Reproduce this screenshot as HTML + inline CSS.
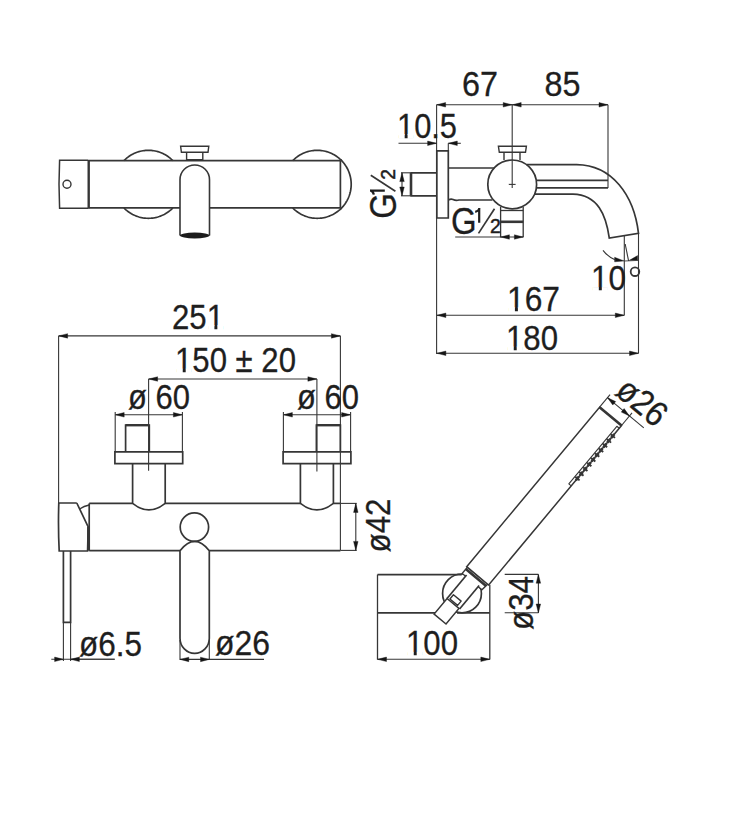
<!DOCTYPE html>
<html><head><meta charset="utf-8"><style>
html,body{margin:0;padding:0;background:#fff;}
svg{display:block;}
text{font-family:"Liberation Sans",sans-serif;fill:#1e1e1e;stroke:#1e1e1e;stroke-width:0.3px;}
</style></head><body>
<svg width="750" height="813" viewBox="0 0 750 813">
<rect width="750" height="813" fill="#fff"/>
<path d="M123.92,160.70 L124.89,159.74 L125.90,158.81 L126.94,157.93 L128.02,157.09 L129.13,156.29 L130.27,155.54 L131.44,154.83 L132.63,154.18 L133.86,153.57 L135.10,153.01 L136.37,152.50 L137.66,152.04 L138.96,151.64 L140.28,151.28 L141.62,150.98 L142.96,150.74 L144.31,150.55 L145.67,150.41 L147.03,150.33 L148.40,150.30 L149.77,150.33 L151.13,150.41 L152.49,150.55 L153.84,150.74 L155.18,150.98 L156.52,151.28 L157.84,151.64 L159.14,152.04 L160.43,152.50 L161.70,153.01 L162.94,153.57 L164.17,154.18 L165.36,154.83 L166.53,155.54 L167.67,156.29 L168.78,157.09 L169.86,157.93 L170.90,158.81 L171.91,159.74 L172.88,160.70" stroke="#363636" stroke-width="1.7" fill="none" />
<path d="M172.88,207.90 L171.91,208.86 L170.90,209.79 L169.86,210.67 L168.78,211.51 L167.67,212.31 L166.53,213.06 L165.36,213.77 L164.17,214.42 L162.94,215.03 L161.70,215.59 L160.43,216.10 L159.14,216.56 L157.84,216.96 L156.52,217.32 L155.18,217.62 L153.84,217.86 L152.49,218.05 L151.13,218.19 L149.77,218.27 L148.40,218.30 L147.03,218.27 L145.67,218.19 L144.31,218.05 L142.96,217.86 L141.62,217.62 L140.28,217.32 L138.96,216.96 L137.66,216.56 L136.37,216.10 L135.10,215.59 L133.86,215.03 L132.63,214.42 L131.44,213.77 L130.27,213.06 L129.13,212.31 L128.02,211.51 L126.94,210.67 L125.90,209.79 L124.89,208.86 L123.92,207.90" stroke="#363636" stroke-width="1.7" fill="none" />
<path d="M292.72,160.70 L293.69,159.74 L294.70,158.81 L295.74,157.93 L296.82,157.09 L297.93,156.29 L299.07,155.54 L300.24,154.83 L301.43,154.18 L302.66,153.57 L303.90,153.01 L305.17,152.50 L306.46,152.04 L307.76,151.64 L309.08,151.28 L310.42,150.98 L311.76,150.74 L313.11,150.55 L314.47,150.41 L315.83,150.33 L317.20,150.30 L318.57,150.33 L319.93,150.41 L321.29,150.55 L322.64,150.74 L323.98,150.98 L325.32,151.28 L326.64,151.64 L327.94,152.04 L329.23,152.50 L330.50,153.01 L331.74,153.57 L332.97,154.18 L334.16,154.83 L335.33,155.54 L336.47,156.29 L337.58,157.09 L338.66,157.93 L339.70,158.81 L340.71,159.74 L341.68,160.70" stroke="#363636" stroke-width="1.7" fill="none" />
<path d="M341.68,207.90 L340.71,208.86 L339.70,209.79 L338.66,210.67 L337.58,211.51 L336.47,212.31 L335.33,213.06 L334.16,213.77 L332.97,214.42 L331.74,215.03 L330.50,215.59 L329.23,216.10 L327.94,216.56 L326.64,216.96 L325.32,217.32 L323.98,217.62 L322.64,217.86 L321.29,218.05 L319.93,218.19 L318.57,218.27 L317.20,218.30 L315.83,218.27 L314.47,218.19 L313.11,218.05 L311.76,217.86 L310.42,217.62 L309.08,217.32 L307.76,216.96 L306.46,216.56 L305.17,216.10 L303.90,215.59 L302.66,215.03 L301.43,214.42 L300.24,213.77 L299.07,213.06 L297.93,212.31 L296.82,211.51 L295.74,210.67 L294.70,209.79 L293.69,208.86 L292.72,207.90" stroke="#363636" stroke-width="1.7" fill="none" />
<path d="M340.40,159.45 L341.40,160.42 L342.36,161.43 L343.27,162.48 L344.15,163.57 L344.97,164.69 L345.75,165.84 L346.49,167.03 L347.17,168.24 L347.80,169.48 L348.38,170.75 L348.91,172.04 L349.39,173.35 L349.81,174.68 L350.18,176.02 L350.49,177.38 L350.74,178.75 L350.94,180.13 L351.09,181.52 L351.17,182.91 L351.20,184.30 L351.17,185.69 L351.09,187.08 L350.94,188.47 L350.74,189.85 L350.49,191.22 L350.18,192.58 L349.81,193.92 L349.39,195.25 L348.91,196.56 L348.38,197.85 L347.80,199.12 L347.17,200.36 L346.49,201.57 L345.75,202.76 L344.97,203.91 L344.15,205.03 L343.27,206.12 L342.36,207.17 L341.40,208.18 L340.40,209.15" stroke="#363636" stroke-width="1.7" fill="none" />
<line x1="88.00" y1="160.70" x2="340.40" y2="160.70" stroke="#363636" stroke-width="1.7"/>
<line x1="88.00" y1="207.90" x2="180.00" y2="207.90" stroke="#363636" stroke-width="1.7"/>
<line x1="209.50" y1="207.90" x2="340.40" y2="207.90" stroke="#363636" stroke-width="1.7"/>
<line x1="340.40" y1="160.70" x2="340.40" y2="207.90" stroke="#363636" stroke-width="1.7"/>
<path d="M88,160.3 L59.6,160.3 Q58.4,184.3 59.6,208.3 L88,208.3" stroke="#363636" stroke-width="1.5" fill="none" />
<line x1="88.70" y1="160.30" x2="88.70" y2="208.30" stroke="#363636" stroke-width="2.4"/>
<circle cx="67" cy="184.3" r="4" stroke="#363636" stroke-width="1.4" fill="none"/>
<path d="M180,235.5 L180,179.7 A14.75,14.75 0 0 1 209.5,179.7 L209.5,235.5" stroke="#363636" stroke-width="1.6" fill="none" />
<ellipse cx="194.75" cy="235.5" rx="14.9" ry="2.9" fill="#1c1c1c"/>
<path d="M180.6,146.2 L208.8,146.2 L208.0,152.3 L181.4,152.3 Z" stroke="#363636" stroke-width="1.4" fill="none" />
<path d="M186.6,152.3 L186.6,159.6 L202.8,159.6 L202.8,152.3" stroke="#363636" stroke-width="1.4" fill="none" />
<line x1="436.60" y1="104.80" x2="608.00" y2="104.80" stroke="#363636" stroke-width="1.1"/>
<path d="M436.60,104.80 L445.60,102.55 L445.60,107.05 Z" fill="#161616" stroke="#161616" stroke-width="0.4" stroke-linejoin="miter"/>
<path d="M512.20,104.80 L503.20,107.05 L503.20,102.55 Z" fill="#161616" stroke="#161616" stroke-width="0.4" stroke-linejoin="miter"/>
<path d="M512.20,104.80 L521.20,102.55 L521.20,107.05 Z" fill="#161616" stroke="#161616" stroke-width="0.4" stroke-linejoin="miter"/>
<path d="M608.00,104.80 L599.00,107.05 L599.00,102.55 Z" fill="#161616" stroke="#161616" stroke-width="0.4" stroke-linejoin="miter"/>
<line x1="436.60" y1="104.80" x2="436.60" y2="354.00" stroke="#363636" stroke-width="1.1"/>
<line x1="512.20" y1="104.80" x2="512.20" y2="184.40" stroke="#363636" stroke-width="1.1"/>
<line x1="508.80" y1="184.40" x2="515.60" y2="184.40" stroke="#363636" stroke-width="1.1"/>
<line x1="512.20" y1="184.40" x2="512.20" y2="188.00" stroke="#363636" stroke-width="1.1"/>
<line x1="608.00" y1="104.80" x2="608.00" y2="188.00" stroke="#363636" stroke-width="1.1"/>
<text x="462" y="96.4" font-size="35.5" text-anchor="start" textLength="36" lengthAdjust="spacingAndGlyphs" >67</text>
<text x="544.5" y="96.4" font-size="35.5" text-anchor="start" textLength="36" lengthAdjust="spacingAndGlyphs" >85</text>
<line x1="398.50" y1="143.30" x2="436.60" y2="143.30" stroke="#363636" stroke-width="1.1"/>
<path d="M436.60,143.30 L427.60,145.55 L427.60,141.05 Z" fill="#161616" stroke="#161616" stroke-width="0.4" stroke-linejoin="miter"/>
<line x1="448.30" y1="143.30" x2="460.80" y2="143.30" stroke="#363636" stroke-width="1.1"/>
<path d="M448.30,143.30 L457.30,141.05 L457.30,145.55 Z" fill="#161616" stroke="#161616" stroke-width="0.4" stroke-linejoin="miter"/>
<line x1="448.30" y1="143.30" x2="448.30" y2="150.80" stroke="#363636" stroke-width="1.1"/>
<text x="397" y="137.5" font-size="35.5" text-anchor="start" textLength="60" lengthAdjust="spacingAndGlyphs" >10.5</text>
<path d="M436.8,150.8 L448.3,150.8 L448.3,218 L436.8,218 Z" stroke="#363636" stroke-width="1.7" fill="none" />
<path d="M436.8,172.8 L411,172.8 L411,195.8 L436.8,195.8" stroke="#363636" stroke-width="1.7" fill="none" />
<line x1="411.00" y1="172.80" x2="411.00" y2="195.80" stroke="#363636" stroke-width="2.6"/>
<line x1="401.00" y1="172.80" x2="410.00" y2="172.80" stroke="#363636" stroke-width="1.1"/>
<line x1="401.00" y1="195.80" x2="410.00" y2="195.80" stroke="#363636" stroke-width="1.1"/>
<line x1="402.00" y1="172.80" x2="402.00" y2="195.80" stroke="#363636" stroke-width="1.1"/>
<path d="M402.00,172.80 L404.25,181.60 L399.75,181.60 Z" fill="#161616" stroke="#161616" stroke-width="0.4" stroke-linejoin="miter"/>
<path d="M402.00,195.80 L399.75,187.00 L404.25,187.00 Z" fill="#161616" stroke="#161616" stroke-width="0.4" stroke-linejoin="miter"/>
<line x1="448.30" y1="168.00" x2="494.20" y2="168.00" stroke="#363636" stroke-width="1.7"/>
<path d="M448.3,200 Q451,198.5 453,199.5 Q456,201 459,200 L492.5,200" stroke="#363636" stroke-width="1.7" fill="none" />
<circle cx="512.2" cy="184.4" r="24.4" stroke="#363636" stroke-width="1.7" fill="none"/>
<path d="M498.4,146.2 L526.4,146.2 L525.5,152.3 L499.3,152.3 Z" stroke="#363636" stroke-width="1.4" fill="none" />
<path d="M504,152.3 L504,160 M520,152.3 L520,160" stroke="#363636" stroke-width="1.4" fill="none" />
<path d="M526.3,164.6 L576.7,164.6 C612,165 634,195 638.5,233.3 L609.3,238.1 C606,215 598,195 573,194.2 L534.5,194.2" stroke="#363636" stroke-width="1.7" fill="none" />
<line x1="536.40" y1="180.40" x2="608.00" y2="180.40" stroke="#363636" stroke-width="1.7"/>
<line x1="536.30" y1="187.90" x2="608.00" y2="187.90" stroke="#363636" stroke-width="1.7"/>
<line x1="500.60" y1="207.00" x2="500.60" y2="237.30" stroke="#363636" stroke-width="1.32"/>
<line x1="523.20" y1="207.00" x2="523.20" y2="237.30" stroke="#363636" stroke-width="1.32"/>
<line x1="500.60" y1="210.50" x2="523.20" y2="210.50" stroke="#363636" stroke-width="1.3"/>
<line x1="500.60" y1="221.80" x2="523.20" y2="221.80" stroke="#363636" stroke-width="2.6"/>
<line x1="455.20" y1="237.00" x2="523.20" y2="237.00" stroke="#363636" stroke-width="1.1"/>
<path d="M500.60,237.00 L509.40,234.75 L509.40,239.25 Z" fill="#161616" stroke="#161616" stroke-width="0.4" stroke-linejoin="miter"/>
<path d="M523.20,237.00 L514.40,239.25 L514.40,234.75 Z" fill="#161616" stroke="#161616" stroke-width="0.4" stroke-linejoin="miter"/>
<g transform="translate(451,233.4)">
<text x="0" y="0.6" font-size="37.5" text-anchor="start" textLength="25.6" lengthAdjust="spacingAndGlyphs" >G</text>
<path d="M28.2,-10.6 L28.2,-25.4 M28.6,-25 Q27.2,-22 24.2,-21.6" stroke="#1e1e1e" stroke-width="2.2" fill="none" />
<line x1="27.50" y1="0.00" x2="43.50" y2="-24.60" stroke="#363636" stroke-width="1.7"/>
<text x="39.0" y="-0.3" font-size="20" text-anchor="start" textLength="10.8" lengthAdjust="spacingAndGlyphs" style="stroke-width:0.5px">2</text>
</g>
<g transform="translate(395.4,218.8) rotate(-90)">
<text x="0" y="0.6" font-size="37.5" text-anchor="start" textLength="25.6" lengthAdjust="spacingAndGlyphs" >G</text>
<path d="M28.2,-10.6 L28.2,-25.4 M28.6,-25 Q27.2,-22 24.2,-21.6" stroke="#1e1e1e" stroke-width="2.2" fill="none" />
<line x1="27.50" y1="0.00" x2="43.50" y2="-24.60" stroke="#363636" stroke-width="1.7"/>
<text x="39.0" y="-0.3" font-size="20" text-anchor="start" textLength="10.8" lengthAdjust="spacingAndGlyphs" style="stroke-width:0.5px">2</text>
</g>
<line x1="624.30" y1="236.00" x2="624.30" y2="315.30" stroke="#363636" stroke-width="1.1"/>
<line x1="638.50" y1="233.30" x2="638.50" y2="353.30" stroke="#363636" stroke-width="1.1"/>
<line x1="625.20" y1="244.00" x2="628.60" y2="261.00" stroke="#363636" stroke-width="1.1"/>
<path d="M624.1,260.9 L614.6,257.3 L614.6,261.8 Z" fill="#161616" stroke="#161616" stroke-width="0.4"/>
<path d="M629.4,260.3 L637.6,255.6 L637.6,260.1 Z" fill="#161616" stroke="#161616" stroke-width="0.4"/>
<line x1="624.30" y1="261.00" x2="638.50" y2="260.40" stroke="#363636" stroke-width="0.9"/>
<path d="M603,250.4 Q608,257 616,260.3" stroke="#363636" stroke-width="1.1" fill="none" />
<text x="591" y="290.4" font-size="35.5" text-anchor="start" textLength="35" lengthAdjust="spacingAndGlyphs" >10</text>
<circle cx="635" cy="271.7" r="4.3" stroke="#363636" stroke-width="1.8" fill="none"/>
<line x1="436.90" y1="315.30" x2="624.30" y2="315.30" stroke="#363636" stroke-width="1.1"/>
<path d="M436.90,315.30 L445.90,313.05 L445.90,317.55 Z" fill="#161616" stroke="#161616" stroke-width="0.4" stroke-linejoin="miter"/>
<path d="M624.30,315.30 L615.30,317.55 L615.30,313.05 Z" fill="#161616" stroke="#161616" stroke-width="0.4" stroke-linejoin="miter"/>
<line x1="436.90" y1="353.30" x2="638.50" y2="353.30" stroke="#363636" stroke-width="1.1"/>
<path d="M436.90,353.30 L445.90,351.05 L445.90,355.55 Z" fill="#161616" stroke="#161616" stroke-width="0.4" stroke-linejoin="miter"/>
<path d="M638.50,353.30 L629.50,355.55 L629.50,351.05 Z" fill="#161616" stroke="#161616" stroke-width="0.4" stroke-linejoin="miter"/>
<text x="507" y="310.7" font-size="35.5" text-anchor="start" textLength="53" lengthAdjust="spacingAndGlyphs" >167</text>
<text x="506" y="350" font-size="35.5" text-anchor="start" textLength="52" lengthAdjust="spacingAndGlyphs" >180</text>
<line x1="58.60" y1="335.90" x2="340.40" y2="335.90" stroke="#363636" stroke-width="1.1"/>
<path d="M58.60,335.90 L67.60,333.65 L67.60,338.15 Z" fill="#161616" stroke="#161616" stroke-width="0.4" stroke-linejoin="miter"/>
<path d="M340.40,335.90 L331.40,338.15 L331.40,333.65 Z" fill="#161616" stroke="#161616" stroke-width="0.4" stroke-linejoin="miter"/>
<line x1="58.60" y1="335.90" x2="58.60" y2="503.00" stroke="#363636" stroke-width="1.1"/>
<line x1="340.40" y1="335.90" x2="340.40" y2="550.70" stroke="#363636" stroke-width="1.1"/>
<text x="172" y="328.7" font-size="35.5" text-anchor="start" textLength="52" lengthAdjust="spacingAndGlyphs" >251</text>
<line x1="148.60" y1="379.00" x2="316.90" y2="379.00" stroke="#363636" stroke-width="1.1"/>
<path d="M148.60,379.00 L157.60,376.75 L157.60,381.25 Z" fill="#161616" stroke="#161616" stroke-width="0.4" stroke-linejoin="miter"/>
<path d="M316.90,379.00 L307.90,381.25 L307.90,376.75 Z" fill="#161616" stroke="#161616" stroke-width="0.4" stroke-linejoin="miter"/>
<line x1="148.60" y1="379.00" x2="148.60" y2="470.80" stroke="#363636" stroke-width="1.1"/>
<line x1="316.90" y1="379.00" x2="316.90" y2="471.40" stroke="#363636" stroke-width="1.1"/>
<text x="175" y="372.1" font-size="35.5" text-anchor="start" textLength="121" lengthAdjust="spacingAndGlyphs" >150 ± 20</text>
<line x1="115.20" y1="414.80" x2="182.40" y2="414.80" stroke="#363636" stroke-width="1.1"/>
<path d="M115.20,414.80 L124.20,412.55 L124.20,417.05 Z" fill="#161616" stroke="#161616" stroke-width="0.4" stroke-linejoin="miter"/>
<path d="M182.40,414.80 L173.40,417.05 L173.40,412.55 Z" fill="#161616" stroke="#161616" stroke-width="0.4" stroke-linejoin="miter"/>
<line x1="115.20" y1="412.00" x2="115.20" y2="451.90" stroke="#363636" stroke-width="1.1"/>
<line x1="182.40" y1="412.00" x2="182.40" y2="451.90" stroke="#363636" stroke-width="1.1"/>
<path d="M114.9,451.9 L182.70000000000002,451.9 L182.70000000000002,463.6 L114.9,463.6 Z" stroke="#363636" stroke-width="1.7" fill="none" />
<path d="M125.6,451.9 L125.6,425.2 L149.3,425.2 L149.3,451.9" stroke="#363636" stroke-width="1.7" fill="none" />
<line x1="125.60" y1="425.20" x2="149.30" y2="425.20" stroke="#363636" stroke-width="2.4"/>
<text x="128" y="409.2" font-size="35.5" text-anchor="start" textLength="62" lengthAdjust="spacingAndGlyphs" >ø 60</text>
<line x1="283.40" y1="414.80" x2="350.60" y2="414.80" stroke="#363636" stroke-width="1.1"/>
<path d="M283.40,414.80 L292.40,412.55 L292.40,417.05 Z" fill="#161616" stroke="#161616" stroke-width="0.4" stroke-linejoin="miter"/>
<path d="M350.60,414.80 L341.60,417.05 L341.60,412.55 Z" fill="#161616" stroke="#161616" stroke-width="0.4" stroke-linejoin="miter"/>
<line x1="283.40" y1="412.00" x2="283.40" y2="451.90" stroke="#363636" stroke-width="1.1"/>
<line x1="350.60" y1="412.00" x2="350.60" y2="451.90" stroke="#363636" stroke-width="1.1"/>
<path d="M283.09999999999997,451.9 L350.90000000000003,451.9 L350.90000000000003,463.6 L283.09999999999997,463.6 Z" stroke="#363636" stroke-width="1.7" fill="none" />
<path d="M316.4,451.9 L316.4,425.2 L340.4,425.2 L340.4,451.9" stroke="#363636" stroke-width="1.7" fill="none" />
<line x1="316.40" y1="425.20" x2="340.40" y2="425.20" stroke="#363636" stroke-width="2.4"/>
<text x="297" y="409.2" font-size="35.5" text-anchor="start" textLength="62" lengthAdjust="spacingAndGlyphs" >ø 60</text>
<path d="M132.6,463.6 L132.6,503.4 Q148.89999999999998,516.5 165.2,503.4 L165.2,463.6" stroke="#363636" stroke-width="1.7" fill="none" />
<path d="M300.4,463.6 L300.4,503.4 Q316.9,516.5 333.4,503.4 L333.4,463.6" stroke="#363636" stroke-width="1.7" fill="none" />
<line x1="89.20" y1="503.40" x2="132.60" y2="503.40" stroke="#363636" stroke-width="1.7"/>
<line x1="165.20" y1="503.40" x2="300.40" y2="503.40" stroke="#363636" stroke-width="1.7"/>
<line x1="333.40" y1="503.40" x2="340.40" y2="503.40" stroke="#363636" stroke-width="1.7"/>
<line x1="89.20" y1="550.70" x2="180.00" y2="550.70" stroke="#363636" stroke-width="1.7"/>
<line x1="209.30" y1="550.70" x2="340.40" y2="550.70" stroke="#363636" stroke-width="1.7"/>
<line x1="89.20" y1="503.40" x2="89.20" y2="550.70" stroke="#363636" stroke-width="1.7"/>
<path d="M76.8,503 L58.8,503 Q58.0,527 59.2,551 L87.6,551 L88.2,527 L76.8,503" stroke="#363636" stroke-width="1.7" fill="none" />
<line x1="88.40" y1="527.00" x2="88.40" y2="550.50" stroke="#363636" stroke-width="2.6"/>
<path d="M79.6,509 Q84,506 89.2,505" stroke="#363636" stroke-width="1.4" fill="none" />
<path d="M63.4,551 L63.4,622.4 L70.6,622.4 L70.6,551" stroke="#363636" stroke-width="1.7" fill="none" />
<line x1="63.40" y1="622.40" x2="63.40" y2="661.00" stroke="#363636" stroke-width="1.1"/>
<line x1="70.60" y1="622.40" x2="70.60" y2="661.00" stroke="#363636" stroke-width="1.1"/>
<line x1="51.30" y1="659.30" x2="114.70" y2="659.30" stroke="#363636" stroke-width="1.1"/>
<path d="M63.40,659.30 L54.60,661.55 L54.60,657.05 Z" fill="#161616" stroke="#161616" stroke-width="0.4" stroke-linejoin="miter"/>
<line x1="70.60" y1="659.30" x2="114.70" y2="659.30" stroke="#363636" stroke-width="1.1"/>
<path d="M70.60,659.30 L79.40,657.05 L79.40,661.55 Z" fill="#161616" stroke="#161616" stroke-width="0.4" stroke-linejoin="miter"/>
<text x="79" y="655.5" font-size="35.5" text-anchor="start" textLength="63" lengthAdjust="spacingAndGlyphs" >ø6.5</text>
<circle cx="194.4" cy="527.1" r="14.2" stroke="#363636" stroke-width="1.7" fill="none"/>
<path d="M180,550.7 Q194.65,532 209.3,550.7 L209.3,638.2 A14.65,15.2 0 0 1 180,638.2 Z" stroke="#363636" stroke-width="1.7" fill="none" />
<line x1="180.00" y1="640.00" x2="180.00" y2="660.00" stroke="#363636" stroke-width="1.1"/>
<line x1="209.30" y1="640.00" x2="209.30" y2="660.00" stroke="#363636" stroke-width="1.1"/>
<line x1="180.00" y1="659.40" x2="264.00" y2="659.40" stroke="#363636" stroke-width="1.1"/>
<path d="M180.00,659.40 L188.80,657.15 L188.80,661.65 Z" fill="#161616" stroke="#161616" stroke-width="0.4" stroke-linejoin="miter"/>
<path d="M209.30,659.40 L200.50,661.65 L200.50,657.15 Z" fill="#161616" stroke="#161616" stroke-width="0.4" stroke-linejoin="miter"/>
<text x="215" y="655.2" font-size="35.5" text-anchor="start" textLength="55" lengthAdjust="spacingAndGlyphs" >ø26</text>
<line x1="340.70" y1="503.40" x2="356.70" y2="503.40" stroke="#363636" stroke-width="1.1"/>
<line x1="340.70" y1="550.40" x2="356.70" y2="550.40" stroke="#363636" stroke-width="1.1"/>
<line x1="355.80" y1="503.40" x2="355.80" y2="550.40" stroke="#363636" stroke-width="1.1"/>
<path d="M355.80,503.40 L358.05,512.40 L353.55,512.40 Z" fill="#161616" stroke="#161616" stroke-width="0.4" stroke-linejoin="miter"/>
<path d="M355.80,550.40 L353.55,541.40 L358.05,541.40 Z" fill="#161616" stroke="#161616" stroke-width="0.4" stroke-linejoin="miter"/>
<text x="390.4" y="552.5" font-size="35.5" text-anchor="start" textLength="54" lengthAdjust="spacingAndGlyphs" transform="rotate(-90 390.4 552.5)" >ø42</text>
<line x1="377.50" y1="574.60" x2="461.70" y2="574.60" stroke="#363636" stroke-width="1.7"/>
<line x1="377.50" y1="574.60" x2="377.50" y2="659.60" stroke="#363636" stroke-width="1.3"/>
<line x1="377.50" y1="612.80" x2="436.00" y2="612.80" stroke="#363636" stroke-width="1.7"/>
<line x1="457.00" y1="612.80" x2="489.80" y2="612.80" stroke="#363636" stroke-width="1.7"/>
<line x1="489.80" y1="584.70" x2="489.80" y2="659.60" stroke="#363636" stroke-width="1.3"/>
<line x1="377.50" y1="659.30" x2="489.80" y2="659.30" stroke="#363636" stroke-width="1.1"/>
<path d="M377.50,659.30 L386.50,657.05 L386.50,661.55 Z" fill="#161616" stroke="#161616" stroke-width="0.4" stroke-linejoin="miter"/>
<path d="M489.80,659.30 L480.80,661.55 L480.80,657.05 Z" fill="#161616" stroke="#161616" stroke-width="0.4" stroke-linejoin="miter"/>
<text x="406" y="655.3" font-size="35.5" text-anchor="start" textLength="52" lengthAdjust="spacingAndGlyphs" >100</text>
<line x1="504.70" y1="574.40" x2="538.40" y2="574.40" stroke="#363636" stroke-width="1.1"/>
<line x1="504.70" y1="612.80" x2="538.40" y2="612.80" stroke="#363636" stroke-width="1.1"/>
<line x1="538.40" y1="574.40" x2="538.40" y2="612.80" stroke="#363636" stroke-width="1.1"/>
<path d="M538.40,574.40 L540.65,583.20 L536.15,583.20 Z" fill="#161616" stroke="#161616" stroke-width="0.4" stroke-linejoin="miter"/>
<path d="M538.40,612.80 L536.15,604.00 L540.65,604.00 Z" fill="#161616" stroke="#161616" stroke-width="0.4" stroke-linejoin="miter"/>
<text x="532.6" y="630" font-size="35.5" text-anchor="start" textLength="54" lengthAdjust="spacingAndGlyphs" transform="rotate(-90 532.6 630)" >ø34</text>
<circle cx="462" cy="593.4" r="19.4" stroke="#363636" stroke-width="1.7" fill="none"/>
<path d="M467.36,567.27 L487.64,584.17 L481.90,589.81 L462.23,573.42 Z" fill="#fff" stroke="#363636" stroke-width="1.4"/>
<path d="M466.57,575.08 L479.10,585.52 L459.57,608.95 L447.05,598.52 Z" fill="#fff" stroke="none"/>
<path d="M466.57,575.08 L447.05,598.52" stroke="#363636" stroke-width="1.7" fill="none" />
<path d="M479.10,585.52 L459.57,608.95" stroke="#363636" stroke-width="1.7" fill="none" />
<path d="M447.05,598.52 L458.96,608.44 L446.03,623.96 L434.12,614.03 Z" fill="#fff" stroke="#363636" stroke-width="1.5"/>
<path d="M449.93,598.96 L457.62,605.36 L461.14,601.14 L453.45,594.74 Z" fill="#fff" stroke="#363636" stroke-width="1.4" stroke-linejoin="round"/>
<path d="M466.66,566.70 L599.55,407.20 L621.52,425.51 L488.64,585.00 Z" fill="#fff" stroke="#363636" stroke-width="1.5"/>
<path d="M599.55,407.20 L621.52,425.51" stroke="#363636" stroke-width="2.6" fill="none" />
<path d="M465.82,569.12 L486.10,586.02" stroke="#363636" stroke-width="2.6" fill="none" />
<path d="M571.21,485.89 L568.83,483.91 L616.84,426.29 L619.22,428.27" fill="none" stroke="#363636" stroke-width="1.1" stroke-linejoin="round"/>
<path d="M575.82,480.36 L578.89,476.68" stroke="#363636" stroke-width="2.6" fill="none" />
<path d="M575.28,476.79 L579.58,480.38" stroke="#363636" stroke-width="1.9" fill="none" />
<path d="M579.75,475.64 L582.83,471.95" stroke="#363636" stroke-width="2.6" fill="none" />
<path d="M579.21,472.07 L583.52,475.66" stroke="#363636" stroke-width="1.9" fill="none" />
<path d="M583.69,470.92 L586.76,467.23" stroke="#363636" stroke-width="2.6" fill="none" />
<path d="M583.15,467.35 L587.45,470.93" stroke="#363636" stroke-width="1.9" fill="none" />
<path d="M587.62,466.20 L590.69,462.51" stroke="#363636" stroke-width="2.6" fill="none" />
<path d="M587.08,462.63 L591.38,466.21" stroke="#363636" stroke-width="1.9" fill="none" />
<path d="M591.55,461.48 L594.62,457.79" stroke="#363636" stroke-width="2.6" fill="none" />
<path d="M591.01,457.91 L595.32,461.49" stroke="#363636" stroke-width="1.9" fill="none" />
<path d="M595.48,456.76 L598.56,453.07" stroke="#363636" stroke-width="2.6" fill="none" />
<path d="M594.95,453.19 L599.25,456.77" stroke="#363636" stroke-width="1.9" fill="none" />
<path d="M599.42,452.04 L602.49,448.35" stroke="#363636" stroke-width="2.6" fill="none" />
<path d="M598.88,448.47 L603.18,452.05" stroke="#363636" stroke-width="1.9" fill="none" />
<path d="M603.35,447.32 L606.42,443.63" stroke="#363636" stroke-width="2.6" fill="none" />
<path d="M602.81,443.75 L607.12,447.33" stroke="#363636" stroke-width="1.9" fill="none" />
<path d="M607.28,442.60 L610.36,438.91" stroke="#363636" stroke-width="2.6" fill="none" />
<path d="M606.75,439.03 L611.05,442.61" stroke="#363636" stroke-width="1.9" fill="none" />
<path d="M611.22,437.88 L614.29,434.19" stroke="#363636" stroke-width="2.6" fill="none" />
<path d="M610.68,434.31 L614.98,437.89" stroke="#363636" stroke-width="1.9" fill="none" />
<path d="M599.55,407.20 L610.05,394.60" stroke="#363636" stroke-width="1.1" fill="none" />
<path d="M621.52,425.51 L632.02,412.91" stroke="#363636" stroke-width="1.1" fill="none" />
<path d="M607.49,397.67 L643.83,427.95" stroke="#363636" stroke-width="1.1" fill="none" />
<path d="M607.49,397.67 L615.69,401.58 L612.81,405.04 Z" fill="#161616" stroke="#161616" stroke-width="0.4" stroke-linejoin="miter"/>
<path d="M629.46,415.98 L621.26,412.08 L624.14,408.62 Z" fill="#161616" stroke="#161616" stroke-width="0.4" stroke-linejoin="miter"/>
<text x="613.74" y="393.77" font-size="35.5" text-anchor="start" textLength="54" lengthAdjust="spacingAndGlyphs" transform="rotate(39.8 613.74 393.77)" >ø26</text>
<rect x="398.51" y="134.15" width="6.16" height="4.75" fill="#fff"/>
<rect x="407.57" y="134.15" width="5.99" height="4.75" fill="#fff"/>
<rect x="592.54" y="287.05" width="6.28" height="4.75" fill="#fff"/>
<rect x="601.79" y="287.05" width="6.12" height="4.75" fill="#fff"/>
<rect x="508.55" y="307.35" width="6.35" height="4.75" fill="#fff"/>
<rect x="517.89" y="307.35" width="6.17" height="4.75" fill="#fff"/>
<rect x="507.52" y="346.65" width="6.23" height="4.75" fill="#fff"/>
<rect x="516.69" y="346.65" width="6.06" height="4.75" fill="#fff"/>
<rect x="208.18" y="325.35" width="6.23" height="4.75" fill="#fff"/>
<rect x="217.35" y="325.35" width="6.06" height="4.75" fill="#fff"/>
<rect x="176.52" y="368.75" width="6.22" height="4.75" fill="#fff"/>
<rect x="185.68" y="368.75" width="6.05" height="4.75" fill="#fff"/>
<rect x="407.52" y="651.95" width="6.23" height="4.75" fill="#fff"/>
<rect x="416.69" y="651.95" width="6.06" height="4.75" fill="#fff"/>
</svg></body></html>
